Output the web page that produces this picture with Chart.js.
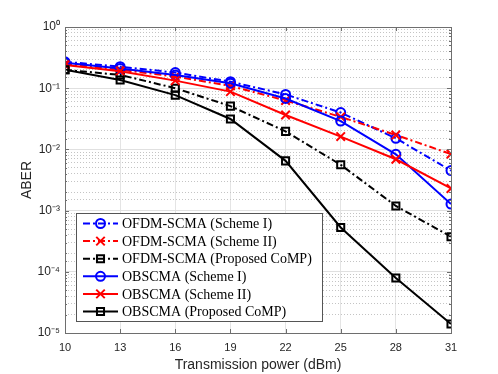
<!DOCTYPE html>
<html>
<head>
<meta charset="utf-8">
<script src="https://cdn.jsdelivr.net/npm/chart.js@4"></script>
<style>
  body { margin:0; background:#fff; }
  #wrap { width:498px; height:374px; }
</style>
</head>
<body>
<div id="wrap"><canvas id="aberChart"></canvas></div>
<script>
// x axis values (dBm)
var powerList = [10, 13, 16, 19, 22, 25, 28, 31];
var xTicks = [10, 13, 16, 19, 22, 25, 28, 31];

// ABER per series
var ofdmScheme1 = [0.27, 0.225, 0.18, 0.128, 0.079, 0.040, 0.0152, 0.0045];
var ofdmScheme2 = [0.25, 0.20, 0.155, 0.109, 0.063, 0.034, 0.0172, 0.0084];
var ofdmComp    = [0.20, 0.165, 0.10, 0.051, 0.0197, 0.0056, 0.00119, 0.000375];
var obScheme1   = [0.26, 0.21, 0.165, 0.12, 0.068, 0.029, 0.0083, 0.00128];
var obScheme2   = [0.24, 0.19, 0.133, 0.088, 0.0365, 0.0162, 0.0069, 0.0023];
var obComp      = [0.20, 0.136, 0.077, 0.0314, 0.0065, 0.00053, 0.000079, 0.000014];

var seriesNames = [
  "OFDM-SCMA (Scheme I)",
  "OFDM-SCMA (Scheme II)",
  "OFDM-SCMA (Proposed CoMP)",
  "OBSCMA (Scheme I)",
  "OBSCMA (Scheme II)",
  "OBSCMA (Proposed CoMP)"
];

var dashDot = [7, 3, 2, 3];
var styles = [
  {color:"#0000ff", dash:dashDot, marker:"circle", r:4.5},
  {color:"#ff0000", dash:dashDot, marker:"crossRot", r:6},
  {color:"#000000", dash:dashDot, marker:"rect", r:5},
  {color:"#0000ff", dash:[], marker:"circle", r:4.5},
  {color:"#ff0000", dash:[], marker:"crossRot", r:6},
  {color:"#000000", dash:[], marker:"rect", r:5}
];
var seriesData = [ofdmScheme1, ofdmScheme2, ofdmComp, obScheme1, obScheme2, obComp];

function toPoints(arr){
  var pts = [];
  for (let i = 0; i < powerList.length; i++) {
    pts.push({x: powerList[i], y: arr[i]});
  }
  return pts;
}

var supMap = {"0":"⁰","1":"¹","2":"²","3":"³","4":"⁴","5":"⁵","6":"⁶","7":"⁷","8":"⁸","9":"⁹","-":"⁻"};
function supText(n){
  return String(n).split("").map(function(c){ return supMap[c]; }).join("");
}
function isDecade(v){
  var e = Math.log10(v);
  return Math.abs(e - Math.round(e)) < 1e-9;
}

var datasets = [];
for (let i = 0; i < seriesData.length; i++) {
  var s = styles[i];
  datasets.push({
    label: seriesNames[i],
    data: toPoints(seriesData[i]),
    borderColor: s.color,
    borderWidth: 2,
    borderDash: s.dash,
    pointStyle: s.marker,
    pointRadius: s.r,
    pointBorderWidth: 2,
    pointBorderColor: s.color,
    pointBackgroundColor: "rgba(0,0,0,0)",
    fill: false,
    tension: 0,
    order: 5 - i
  });
}

// box around the axes with small inner ticks
var boxPlugin = {
  id: "boxPlugin",
  afterDraw: function(chart){
    var ctx = chart.ctx, a = chart.chartArea;
    var xs = chart.scales.x, ys = chart.scales.y;
    ctx.save();
    ctx.strokeStyle = "#6e6e6e";
    ctx.lineWidth = 1;
    ctx.setLineDash([]);
    ctx.beginPath();
    xs.ticks.forEach(function(t){
      var px = Math.round(xs.getPixelForValue(t.value)) + 0.5;
      ctx.moveTo(px, a.bottom); ctx.lineTo(px, a.bottom - 4);
      ctx.moveTo(px, a.top); ctx.lineTo(px, a.top + 4);
    });
    ys.ticks.forEach(function(t){
      var py = Math.round(ys.getPixelForValue(t.value)) + 0.5;
      var len = isDecade(t.value) ? 4 : 2;
      ctx.moveTo(a.left, py); ctx.lineTo(a.left + len, py);
      ctx.moveTo(a.right, py); ctx.lineTo(a.right - len, py);
    });
    ctx.stroke();
    ctx.strokeRect(Math.round(a.left) + 0.5, Math.round(a.top) + 0.5,
                   Math.round(a.right - a.left), Math.round(a.bottom - a.top));
    ctx.restore();
  }
};

// legend drawn inside the plot, lower left
var legendPlugin = {
  id: "boxLegend",
  afterDraw: function(chart){
    var ctx = chart.ctx;
    var bx = 76, by = 213, bw = 246, bh = 108;
    var rowH = 17.6, firstY = 223.5;
    ctx.save();
    ctx.fillStyle = "#ffffff";
    ctx.fillRect(bx, by, bw, bh);
    ctx.strokeStyle = "#555555";
    ctx.lineWidth = 1;
    ctx.strokeRect(bx + 0.5, by + 0.5, bw, bh);
    ctx.font = "14px 'Liberation Serif', 'Times New Roman', serif";
    ctx.textBaseline = "middle";
    for (let i = 0; i < seriesNames.length; i++) {
      var s = styles[i];
      var y = firstY + i * rowH;
      ctx.strokeStyle = s.color;
      ctx.lineWidth = 2;
      ctx.setLineDash(s.dash);
      ctx.beginPath();
      ctx.moveTo(83, y); ctx.lineTo(118, y);
      ctx.stroke();
      ctx.setLineDash([]);
      ctx.fillStyle = "rgba(0,0,0,0)";
      Chart.helpers.drawPoint(ctx, {pointStyle: s.marker, radius: s.r, rotation: 0, borderWidth: 2}, 100.5, y);
      ctx.fillStyle = "#000000";
      ctx.fillText(seriesNames[i], 122, y + 1);
    }
    ctx.restore();
  }
};

new Chart(document.getElementById("aberChart"), {
  type: "line",
  data: { datasets: datasets },
  options: {
    responsive: true,
    maintainAspectRatio: false,
    animation: false,
    layout: { padding: { left: 0, right: 47, top: 27, bottom: 0 } },
    plugins: {
      legend: { display: false },
      tooltip: { enabled: false }
    },
    scales: {
      x: {
        type: "linear",
        min: 10,
        max: 31,
        afterBuildTicks: function(scale){
          scale.ticks = xTicks.map(function(v){ return {value: v}; });
        },
        afterFit: function(scale){ scale.height = 41; },
        grid: { color: "#e4e4e4", lineWidth: 1, drawTicks: false },
        border: { display: false },
        ticks: {
          padding: 8,
          color: "#262626",
          font: { family: "'Liberation Sans', Arial, sans-serif", size: 11 },
          maxRotation: 0
        },
        title: {
          display: true,
          text: "Transmission power (dBm)",
          color: "#262626",
          font: { family: "'Liberation Sans', Arial, sans-serif", size: 14 },
          padding: { top: 1, bottom: 0 }
        }
      },
      y: {
        type: "logarithmic",
        min: 1e-5,
        max: 1,
        afterFit: function(scale){ scale.width = 65; },
        grid: {
          drawTicks: false,
          lineWidth: 1,
          color: function(c){
            if (!c.tick) return "#e4e4e4";
            return isDecade(c.tick.value) ? "#e0e0e0" : "#c4c4c4";
          }
        },
        border: {
          display: false,
          dash: function(c){
            if (!c.tick) return [];
            return isDecade(c.tick.value) ? [] : [1, 2];
          }
        },
        ticks: {
          autoSkip: false,
          padding: 5,
          color: "#262626",
          font: { family: "'Liberation Sans', Arial, sans-serif", size: 12 },
          callback: function(v){
            if (!isDecade(v)) return "";
            return "10" + supText(Math.round(Math.log10(v)));
          }
        },
        title: {
          display: true,
          text: "ABER",
          color: "#262626",
          font: { family: "'Liberation Sans', Arial, sans-serif", size: 14 },
          padding: { top: 19, bottom: 0 }
        }
      }
    }
  },
  plugins: [boxPlugin, legendPlugin]
});
</script>
</body>
</html>
